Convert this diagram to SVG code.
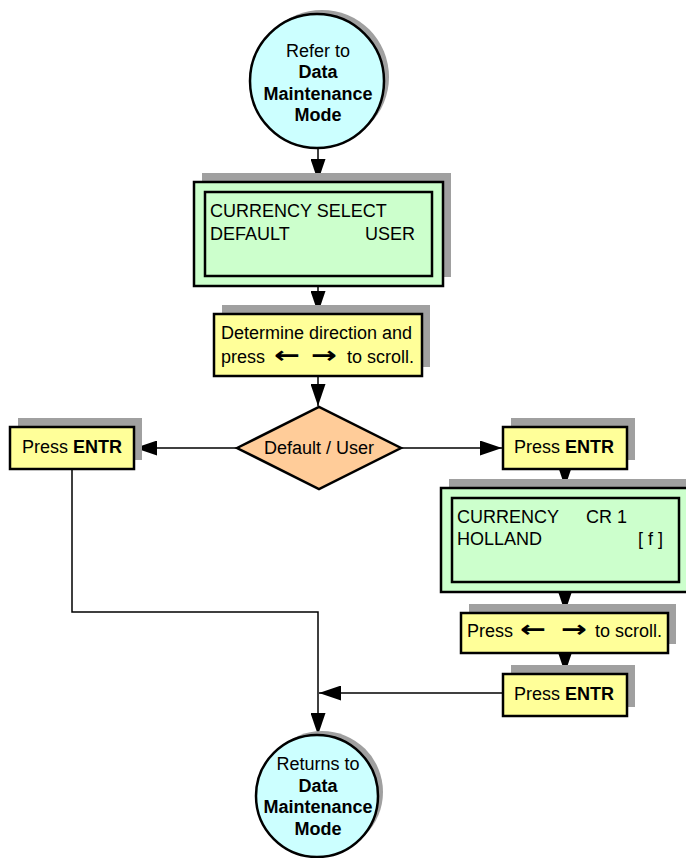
<svg xmlns="http://www.w3.org/2000/svg" width="686" height="858" viewBox="0 0 686 858">
<style>
text{font-family:"Liberation Sans",Arial,sans-serif;font-size:18px;fill:#000}
.b{font-weight:bold}
.ar{font-family:"DejaVu Sans",sans-serif;font-size:23px;font-weight:bold}
.sh{fill:#a0a0a0;stroke:none}
.box{stroke:#000;stroke-width:2.5}
.y{fill:#ffff99}
.g{fill:#ccffcc}
.c{fill:#ccffff}
.d{fill:#ffcc99}
.ln{fill:none;stroke:#000;stroke-width:1.5}
</style>
<defs>
<marker id="ah" viewBox="0 0 22 15" refX="22" refY="7.5" markerWidth="22" markerHeight="15" markerUnits="userSpaceOnUse" orient="auto">
<path d="M0,0 L22,7.5 L0,15 z" fill="#000"/>
</marker>
</defs>
<rect width="686" height="858" fill="#fff"/>

<g id="connectors">
<line class="ln" x1="318" y1="148" x2="318" y2="181" marker-end="url(#ah)"/>
<line class="ln" x1="318" y1="286" x2="318" y2="313" marker-end="url(#ah)"/>
<line class="ln" x1="318" y1="376" x2="318" y2="406" marker-end="url(#ah)"/>
<line class="ln" x1="237" y1="448" x2="135" y2="448" marker-end="url(#ah)"/>
<line class="ln" x1="401" y1="448" x2="502" y2="448" marker-end="url(#ah)"/>
<line class="ln" x1="565" y1="469" x2="565" y2="487" marker-end="url(#ah)"/>
<line class="ln" x1="565" y1="592" x2="565" y2="612" marker-end="url(#ah)"/>
<line class="ln" x1="565" y1="653" x2="565" y2="673" marker-end="url(#ah)"/>
<polyline class="ln" points="72,469 72,612 318,612 318,735" marker-end="url(#ah)"/>
<line class="ln" x1="503" y1="693" x2="319" y2="693" marker-end="url(#ah)"/>
</g>

<g id="start">
<circle class="sh" cx="322" cy="77" r="67"/>
<circle class="box c" cx="317" cy="81" r="67"/>
<text x="318" y="57" text-anchor="middle">Refer to</text>
<text class="b" x="318" y="78" text-anchor="middle">Data</text>
<text class="b" x="318" y="100" text-anchor="middle">Maintenance</text>
<text class="b" x="318" y="121" text-anchor="middle">Mode</text>
</g>

<g id="display1">
<rect class="sh" x="202" y="173" width="249" height="104"/>
<rect class="box g" x="194" y="182" width="249" height="104"/>
<rect class="box g" x="205" y="192" width="227" height="84"/>
<text x="210" y="217">CURRENCY SELECT</text>
<text x="210" y="240">DEFAULT</text>
<text x="415" y="240" text-anchor="end">USER</text>
</g>

<g id="direction">
<rect class="sh" x="222" y="305" width="208" height="62"/>
<rect class="box y" x="214" y="314" width="208" height="62"/>
<text x="221" y="339">Determine direction and</text>
<text x="221" y="363">press</text>
<text class="ar" x="274" y="363" textLength="26" lengthAdjust="spacingAndGlyphs">←</text>
<text class="ar" x="311" y="363" textLength="26" lengthAdjust="spacingAndGlyphs">→</text>
<text x="347" y="363">to scroll.</text>
</g>

<g id="decision">
<polygon class="box d" points="237,448 319,407 401,448 319,489"/>
<text x="319" y="454" text-anchor="middle">Default / User</text>
</g>

<g id="enter-left">
<rect class="sh" x="18" y="418" width="124" height="42"/>
<rect class="box y" x="10" y="427" width="124" height="42"/>
<text x="22" y="453">Press <tspan class="b">ENTR</tspan></text>
</g>

<g id="enter-right">
<rect class="sh" x="511" y="418" width="124" height="42"/>
<rect class="box y" x="503" y="427" width="124" height="42"/>
<text x="514" y="453">Press <tspan class="b">ENTR</tspan></text>
</g>

<g id="display2">
<rect class="sh" x="449" y="479" width="249" height="104"/>
<rect class="box g" x="441" y="488" width="249" height="104"/>
<rect class="box g" x="452" y="498" width="227" height="84"/>
<text x="457" y="523">CURRENCY</text>
<text x="586" y="523">CR  1</text>
<text x="457" y="545">HOLLAND</text>
<text x="663" y="545" text-anchor="end">[ f ]</text>
</g>

<g id="scroll">
<rect class="sh" x="469" y="604" width="207" height="40"/>
<rect class="box y" x="461" y="613" width="207" height="40"/>
<text x="467" y="637">Press</text>
<text class="ar" x="520" y="637" textLength="26" lengthAdjust="spacingAndGlyphs">←</text>
<text class="ar" x="561" y="637" textLength="26" lengthAdjust="spacingAndGlyphs">→</text>
<text x="595" y="637">to scroll.</text>
</g>

<g id="enter-bottom">
<rect class="sh" x="511" y="665" width="124" height="42"/>
<rect class="box y" x="503" y="674" width="124" height="42"/>
<text x="514" y="700">Press <tspan class="b">ENTR</tspan></text>
</g>

<g id="end">
<circle class="sh" cx="322" cy="792" r="61"/>
<circle class="box c" cx="317" cy="796" r="61"/>
<text x="318" y="770" text-anchor="middle">Returns to</text>
<text class="b" x="318" y="792" text-anchor="middle">Data</text>
<text class="b" x="318" y="813" text-anchor="middle">Maintenance</text>
<text class="b" x="318" y="835" text-anchor="middle">Mode</text>
</g>
</svg>
